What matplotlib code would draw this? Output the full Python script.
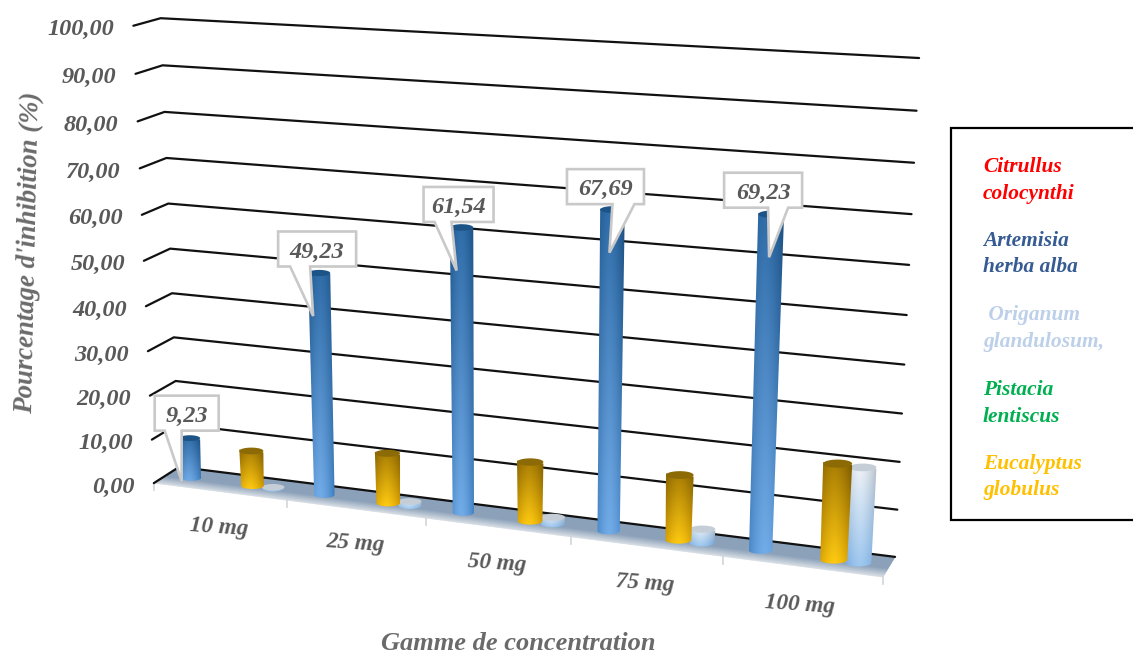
import numpy as np
import matplotlib
matplotlib.use('agg')
import matplotlib.pyplot as plt
from matplotlib.colors import to_rgb
from matplotlib.patches import Polygon, Rectangle

concentrations = ['10 mg', '25 mg', '50 mg', '75 mg', '100 mg']
artemisia = [9.23, 49.23, 61.54, 67.69, 69.23]
eucalyptus = [8.0, 11.2, 13.0, 14.0, 20.2]
origanum = [0.3, 1.0, 1.5, 3.0, 20.0]
y_ticks = [0, 10, 20, 30, 40, 50, 60, 70, 80, 90, 100]
legend_names = [('Citrullus', 'colocynthi'), ('Artemisia', 'herba alba'),
                (' Origanum', 'glandulosum,'), ('Pistacia', 'lentiscus'),
                ('Eucalyptus', 'globulus')]
legend_colors = ['#ff0000', '#355b92', '#bdd0e9', '#00b050', '#ffc000']

GREY = '#595959'
SERIF = 'Liberation Serif'

# camera of the fake 3d chart, fitted on the corners of the box
# (u along categories, d front->back, v value) -> pixels
corners = [((0, 1, 0), (178, 467)), ((1, 1, 0), (895, 557)), ((1, 1, 100), (919, 58)),
           ((0, 1, 100), (162, 18)), ((0, 0, 0), (155, 483)), ((1, 0, 0), (883, 577)),
           ((0, 0, 100), (132, 26))]
rows = []
for (u, d, v), (px, py) in corners:
    v = v / 100
    rows.append([u, d, v, 1, 0, 0, 0, 0, -px * u, -px * d, -px * v, -px])
    rows.append([0, 0, 0, 0, u, d, v, 1, -py * u, -py * d, -py * v, -py])
# columns are rescaled a bit so the pixel terms do not dominate
rows = np.array(rows, dtype=float)
scale = np.array([1000] * 8 + [1] * 4, dtype=float)
cam = np.linalg.svd(rows / scale)[2][-1] / scale
cam = cam.reshape(3, 4)


def proj(u, d, v):
    p = cam @ np.array([u, d, v / 100, 1.0])
    return p[0] / p[2], p[1] / p[2]


def mix(c1, c2, t):
    return np.array(to_rgb(c1)) * (1 - t) + np.array(to_rgb(c2)) * t


fig = plt.figure(figsize=(11.33, 6.54), dpi=100)
ax = fig.add_axes([0, 0, 1, 1])


def cylinder(u, value, radius, top, top_edge, low, low_edge, cap, z):
    x0, y0 = proj(u - radius, 0.5, 0)
    x1, y1 = proj(u + radius, 0.5, 0)
    x2, y2 = proj(u + radius, 0.5, value)
    x3, y3 = proj(u - radius, 0.5, value)
    a = np.linspace(0, np.pi, 20)
    rb = (x1 - x0) / 2
    rt = (x2 - x3) / 2 * 1.06
    x2, x3 = (x2 + x3) / 2 + rt, (x2 + x3) / 2 - rt
    # body with round bottom
    bottom = [((x0 + x1) / 2 + rb * np.cos(t), (y0 + y1) / 2 + 0.28 * rb * np.sin(t)) for t in a]
    body = [(x3, y3), (x2, y2)] + bottom
    body = np.array(body)
    xa, xb = body[:, 0].min() - 1, body[:, 0].max() + 1
    ya, yb = body[:, 1].min() - 1, body[:, 1].max() + 1
    h = max(int(yb - ya), 2)
    xs = np.linspace(-1, 1, 60)
    img = np.zeros((h, 60, 3))
    for i in range(h):
        t = i / (h - 1)
        centre = mix(top, low, t)
        edge = mix(top_edge, low_edge, t)
        for j, s in enumerate(xs):
            img[i, j] = mix(centre, edge, min(abs(s + 0.1) ** 1.6, 1))
    im = ax.imshow(img, extent=(xa, xb, yb, ya), aspect='auto', zorder=z, interpolation='bilinear')
    clip = Polygon(body, closed=True, transform=ax.transData)
    im.set_clip_path(clip)
    tx, ty = (x2 + x3) / 2, (y2 + y3) / 2
    lid = [(tx + rt * np.cos(t), ty + 0.28 * rt * np.sin(t)) for t in np.linspace(0, 2 * np.pi, 40)]
    ax.add_patch(Polygon(lid, closed=True, fc=cap, ec='none', zorder=z + 0.1))


# floor
n = 30
for k in range(n):
    d0, d1 = k / n, (k + 1) / n
    col = mix('#dfe4e9', '#8ba1b9', min((k + 1) / (0.45 * n), 1))
    ax.add_patch(Polygon([proj(0, d0, 0), proj(1, d0, 0), proj(1, d1, 0), proj(0, d1, 0)],
                         closed=True, fc=col, ec=col, lw=0.4, zorder=1))

# gridlines and value labels
for tick in y_ticks:
    pts = np.array([proj(0, 0, tick), proj(0, 1, tick), proj(1, 1, tick)])
    ax.plot(pts[:, 0], pts[:, 1], color='#111111', lw=1.6, zorder=2, solid_capstyle='round')
    lab = f'{tick:.2f}'.replace('.', ',')
    ax.text(pts[0, 0] - 19, pts[0, 1] + 4, lab, ha='right', va='center', family=SERIF,
            style='italic', weight='bold', fontsize=17.5, color=GREY)

# ticks under the front edge
for i in range(len(concentrations) + 1):
    x, y = proj(i / len(concentrations), 0, 0)
    ax.plot([x, x], [y, y + 7], color='#cfd5da', lw=1.2, zorder=1)

# bars, the light ones first because the gold ones overlap them
ncat = len(concentrations)
for i in range(ncat):
    cylinder((i + 0.81) / ncat, origanum[i], 0.08 / ncat, '#eef2f6', '#bcc4cc', '#9cc6ee', '#6fa5dc',
             '#c5ced6', 3)
    cylinder((i + 0.655) / ncat, eucalyptus[i], 0.085 / ncat, '#a87c04', '#7d5d02', '#ffcb12', '#d49a00',
             '#8c6a06', 4)
    cylinder((i + 0.19) / ncat, artemisia[i], 0.075 / ncat, '#2f6ca8', '#1c4f80', '#72ace8', '#3f7fc0',
             '#1d5488', 4)

# callouts
box_w = [64, 78, 70, 77, 78]
tip_dx = [-8, -6, -5, -3, -2]
box_shift = [(5, -3), (4, -2), (2, -1), (-4, -1), (-6, -2)]
base_off = [(-17, 0), (-23, -3), (-22, -5), (3, 25), (-1, 19)]
for i in range(ncat):
    x, y = proj((i + 0.19) / ncat, 0.5, artemisia[i])
    tx, ty = x + tip_dx[i], y + 43
    cx, cy = tx + box_shift[i][0], ty - 65 + box_shift[i][1]
    w, h = box_w[i], 35
    l, r, t, b = cx - w / 2, cx + w / 2, cy - h / 2, cy + h / 2
    b0, b1 = base_off[i]
    pts = [(l, t), (r, t), (r, b), (tx + b1, b), (tx, ty), (tx + b0, b), (l, b)]
    ax.add_patch(Polygon(pts, closed=True, fc='white', ec='#c9c9c9', lw=1.9, zorder=6))
    ax.text(cx, cy + 3, f'{artemisia[i]:.2f}'.replace('.', ','), ha='center', va='center',
            family=SERIF, style='italic', weight='bold', fontsize=17.5, color=GREY, zorder=7)

# category labels
label_pos = [(219, 528), (355, 544), (497, 564), (645, 584), (800, 605)]
for name, (x, y) in zip(concentrations, label_pos):
    ax.text(x, y, name, ha='center', va='center', rotation=-4, family=SERIF, style='italic',
            weight='bold', fontsize=16.7, color=GREY)

ax.text(29, 253, "Pourcentage d'inhibition (%)", ha='center', va='center', rotation=88.8,
        family=SERIF, style='italic', weight='bold', fontsize=19.3, color='#6a6a6a')
ax.text(518, 649.5, 'Gamme de concentration', ha='center', va='baseline', family=SERIF,
        style='italic', weight='bold', fontsize=19, color='#6a6a6a')

# legend box, runs off the right side
ax.add_patch(Rectangle((951, 128), 200, 392, fc='white', ec='black', lw=1.6, zorder=2))
line_y = [167, 241, 315, 390, 464]
for (a, b), col, y in zip(legend_names, legend_colors, line_y):
    for txt, yy in ((a, y), (b, y + 26.5)):
        ax.text(983, yy, txt, ha='left', va='center', family=SERIF, style='italic',
                weight='bold', fontsize=15.4, color=col, zorder=3)

ax.set_xlim(0, 1133)
ax.set_ylim(654, 0)
ax.axis('off')
fig.savefig('out.png', dpi=100)
